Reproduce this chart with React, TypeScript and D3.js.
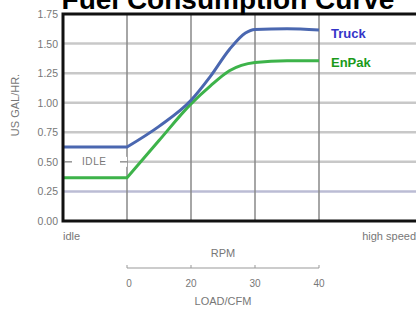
import * as d3 from "d3"

const yTicks = [0, 0.25, 0.5, 0.75, 1.0, 1.25, 1.5, 1.75]
const gridX = [1, 2, 3, 4]

const truckX = [0, 1, 1.5, 2, 2.3, 2.6, 2.85, 3, 3.5, 4]
const truckY = [0.625, 0.625, 0.8, 1.02, 1.22, 1.45, 1.59, 1.62, 1.625, 1.615]

const enpakX = [0, 1, 1.5, 2, 2.3, 2.6, 3, 3.5, 4]
const enpakY = [0.365, 0.365, 0.68, 0.99, 1.14, 1.27, 1.34, 1.355, 1.355]

const loadTicks = ["0", "20", "30", "40"]

export default function App() {
  const width = 416
  const height = 311
  const left = 63
  const top = 14
  const bottom = 221

  const x = d3.scaleLinear().domain([0, 1]).range([left, left + 64])
  const y = d3.scaleLinear().domain([0, 1.75]).range([bottom, top])
  const load = d3.scalePoint().domain(loadTicks).range([x(1), x(4)])

  const curve = d3
    .line<[number, number]>()
    .x((d) => x(d[0]))
    .y((d) => y(d[1]))
    .curve(d3.curveMonotoneX)

  // flat idle run is straight, the ramp after it is smoothed
  const seriesPath = (xs: number[], ys: number[]) => {
    const pts = xs.map((v, i) => [v, ys[i]] as [number, number])
    const ramp = curve(pts.slice(1)) || ""
    return `M${x(pts[0][0])},${y(pts[0][1])}L` + ramp.slice(1)
  }

  const axisLine = 268
  const font = "'Liberation Sans', Arial, sans-serif"

  return (
    <svg
      width={width}
      height={height}
      style={{ position: "absolute", left: 0, top: 0, background: "#fff" }}
      fontFamily={font}
    >
      {/* horizontal grid */}
      {yTicks.slice(1, -1).map((t) => (
        <line
          key={t}
          x1={left}
          x2={width}
          y1={y(t)}
          y2={y(t)}
          stroke={t === 0.25 ? "#bbbcd4" : "#c8c8c8"}
          strokeWidth={2.5}
        />
      ))}
      {/* vertical grid */}
      {gridX.map((g) => (
        <line key={g} x1={x(g)} x2={x(g)} y1={top} y2={bottom} stroke="#888" strokeWidth={1.5} />
      ))}

      {/* IDLE marker */}
      <rect x={x(0) + 2} y={y(0.5) - 5} width={62} height={10} fill="#fff" />
      <line x1={x(0) + 2} x2={x(0) + 9} y1={y(0.5)} y2={y(0.5)} stroke="#777" strokeWidth={1.2} />
      <text x={x(0) + 19} y={y(0.5) + 3.5} fontSize={10} fill="#777" textLength={24}>
        IDLE
      </text>
      <line x1={x(0) + 57} x2={x(1)} y1={y(0.5)} y2={y(0.5)} stroke="#777" strokeWidth={1.2} />

      {/* legend box */}
      <rect x={x(4) + 1} y={top} width={width - x(4)} height={y(1.5) - top - 1.5} fill="#fff" />
      <rect x={x(4) + 1} y={y(1.5) + 1.5} width={width - x(4)} height={y(1.25) - y(1.5) - 3} fill="#fff" />

      <path d={seriesPath(enpakX, enpakY)} fill="none" stroke="#3db34a" strokeWidth={3} />
      <path d={seriesPath(truckX, truckY)} fill="none" stroke="#4a67b0" strokeWidth={3} />

      <text x={331} y={38} fontSize={13} fontWeight="bold" fill="#3434c8">
        Truck
      </text>
      <text x={331} y={67} fontSize={13} fontWeight="bold" fill="#1a9a1a">
        EnPak
      </text>

      {/* frame */}
      <path
        d={`M${width + 5},${top} H${left} V${bottom} H${width + 5}`}
        fill="none"
        stroke="#111"
        strokeWidth={3}
      />

      {/* y tick labels */}
      {yTicks.map((t) => (
        <text key={t} x={58} y={y(t) + 4} fontSize={10.5} fill="#777" textAnchor="end">
          {t.toFixed(2)}
        </text>
      ))}
      <text
        transform={`translate(19,105) rotate(-90)`}
        textAnchor="middle"
        fontSize={11}
        fill="#777"
      >
        US GAL/HR.
      </text>

      <text x={63} y={240} fontSize={11} fill="#777">
        idle
      </text>
      <text x={416} y={240} fontSize={11} fill="#777" textAnchor="end">
        high speed
      </text>
      <text x={223} y={257} fontSize={11} fill="#777" textAnchor="middle">
        RPM
      </text>

      {/* load axis */}
      <line x1={load("0")} x2={load("40")} y1={axisLine} y2={axisLine} stroke="#999" strokeWidth={1} />
      {loadTicks.map((t) => (
        <g key={t}>
          <line x1={load(t)} x2={load(t)} y1={axisLine} y2={axisLine - 3} stroke="#999" />
          <text x={(load(t) || 0) + (t === "0" ? 2 : 0)} y={287} fontSize={10} fill="#777" textAnchor="middle">
            {t}
          </text>
        </g>
      ))}
      <text x={223} y={305} fontSize={11} fill="#777" textAnchor="middle">
        LOAD/CFM
      </text>

      {/* title, cut by the top edge as in the reference */}
      <text x={228} y={9} fontSize={28} fontWeight="bold" fill="#000" textAnchor="middle">
        Fuel Consumption Curve
      </text>
    </svg>
  )
}
